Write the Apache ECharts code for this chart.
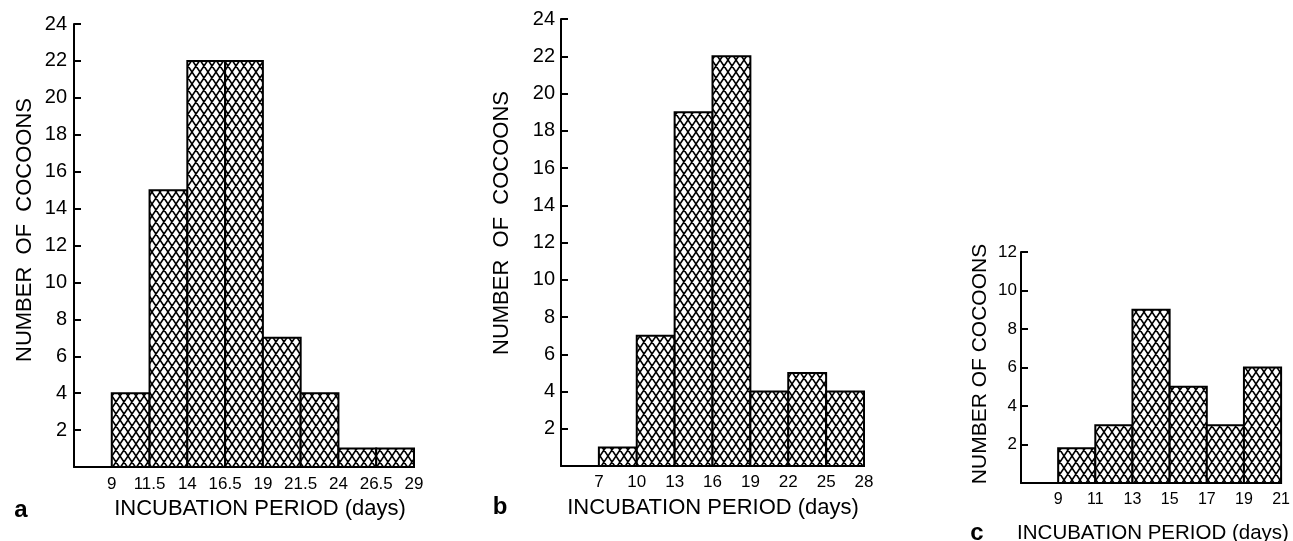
<!DOCTYPE html>
<html>
<head>
<meta charset="utf-8">
<script src="https://cdn.jsdelivr.net/npm/echarts@6/dist/echarts.min.js"></script>
<style>html,body{margin:0;padding:0;background:#fff;}#c{width:1293px;height:541px;}</style>
</head>
<body>
<div id="c"></div>
<script>
// ---- data ----
const edgesA = [9, 11.5, 14, 16.5, 19, 21.5, 24, 26.5, 29];
const countsA = [4, 15, 22, 22, 7, 4, 1, 1];
const edgesB = [7, 10, 13, 16, 19, 22, 25, 28];
const countsB = [1, 7, 19, 22, 4, 5, 4];
const edgesC = [9, 11, 13, 15, 17, 19, 21];
const countsC = [1.8, 3, 9, 5, 3, 6];
const yTicksAB = [2, 4, 6, 8, 10, 12, 14, 16, 18, 20, 22, 24];
const yTicksC = [2, 4, 6, 8, 10, 12];

// ---- hatch pattern ----
const tile = document.createElement('canvas');
tile.width = 8; tile.height = 12;
(function () {
  const ctx = tile.getContext('2d');
  ctx.fillStyle = '#fff'; ctx.fillRect(0, 0, 8, 12);
  ctx.strokeStyle = '#000'; ctx.lineWidth = 1.6;
  ctx.beginPath();
  for (const dx of [-8, 0, 8]) {
    ctx.moveTo(dx - 1, -1.5); ctx.lineTo(dx + 9, 13.5);
    ctx.moveTo(dx + 9, -1.5); ctx.lineTo(dx - 1, 13.5);
  }
  ctx.stroke();
})();
const hatch = { image: tile, repeat: 'repeat' };

function binData(edges, counts) {
  return counts.map((v, i) => [edges[i], edges[i + 1], v]);
}
const FONT = 'Liberation Sans';

function renderBin(params, api) {
  const p0 = api.coord([api.value(0), 0]);
  const p1 = api.coord([api.value(1), api.value(2)]);
  return {
    type: 'rect',
    shape: { x: p0[0], y: p1[1], width: p1[0] - p0[0], height: p0[1] - p1[1] },
    style: { fill: hatch, stroke: '#000', lineWidth: 2 }
  };
}

function xAx(idx, min, max, ticks, fs, margin) {
  return {
    type: 'value', gridIndex: idx, min: min, max: max,
    axisLine: { show: true, onZero: false, lineStyle: { color: '#000', width: 2 } },
    axisTick: { show: false },
    splitLine: { show: false },
    axisLabel: { customValues: ticks, color: '#000', fontFamily: FONT, fontSize: fs, margin: margin }
  };
}
function yAx(idx, max, ticks, fs, margin) {
  return {
    type: 'value', gridIndex: idx, min: 0, max: max,
    axisLine: { show: true, lineStyle: { color: '#000', width: 2 } },
    axisTick: { show: true, inside: true, length: 7, customValues: ticks, lineStyle: { color: '#000', width: 2 } },
    splitLine: { show: false },
    axisLabel: { customValues: ticks, color: '#000', fontFamily: FONT, fontSize: fs, margin: margin }
  };
}
function txt(x, y, text, size, opts) {
  opts = opts || {};
  return {
    type: 'text', x: x, y: y, rotation: opts.rot || 0,
    style: { text: text, fill: '#000', font: (opts.bold ? 'bold ' : '') + size + 'px "' + FONT + '"', align: 'center', verticalAlign: 'middle' }
  };
}

const chart = echarts.init(document.getElementById('c'), null, { renderer: 'canvas' });
chart.setOption({
  backgroundColor: '#fff',
  animation: false,
  grid: [
    { left: 74, top: 24, width: 340, height: 443 },
    { left: 561, top: 19, width: 303, height: 447 },
    { left: 1021, top: 252, width: 266, height: 231 }
  ],
  xAxis: [
    xAx(0, 6.5, 29, edgesA, 17, 9),
    xAx(1, 4, 28, edgesB, 17, 8),
    xAx(2, 7, 21, edgesC, 16, 9)
  ],
  yAxis: [
    yAx(0, 24, yTicksAB, 20, 7),
    yAx(1, 24, yTicksAB, 20, 6),
    yAx(2, 12, yTicksC, 17, 4)
  ],
  series: [
    { type: 'custom', xAxisIndex: 0, yAxisIndex: 0, renderItem: renderBin, data: binData(edgesA, countsA), encode: { x: [0, 1], y: 2 } },
    { type: 'custom', xAxisIndex: 1, yAxisIndex: 1, renderItem: renderBin, data: binData(edgesB, countsB), encode: { x: [0, 1], y: 2 } },
    { type: 'custom', xAxisIndex: 2, yAxisIndex: 2, renderItem: renderBin, data: binData(edgesC, countsC), encode: { x: [0, 1], y: 2 } }
  ],
  graphic: [
    txt(25, 230, 'NUMBER  OF  COCOONS', 22, { rot: Math.PI / 2 }),
    txt(502, 223, 'NUMBER  OF  COCOONS', 22, { rot: Math.PI / 2 }),
    txt(980, 364, 'NUMBER OF COCOONS', 21, { rot: Math.PI / 2 }),
    txt(260, 509, 'INCUBATION PERIOD (days)', 22),
    txt(713, 508, 'INCUBATION PERIOD (days)', 22),
    txt(1153, 533, 'INCUBATION PERIOD (days)', 20.5),
    txt(21, 510, 'a', 24, { bold: true }),
    txt(500, 507, 'b', 24, { bold: true }),
    txt(977, 533, 'c', 24, { bold: true })
  ]
});
</script>
</body>
</html>
